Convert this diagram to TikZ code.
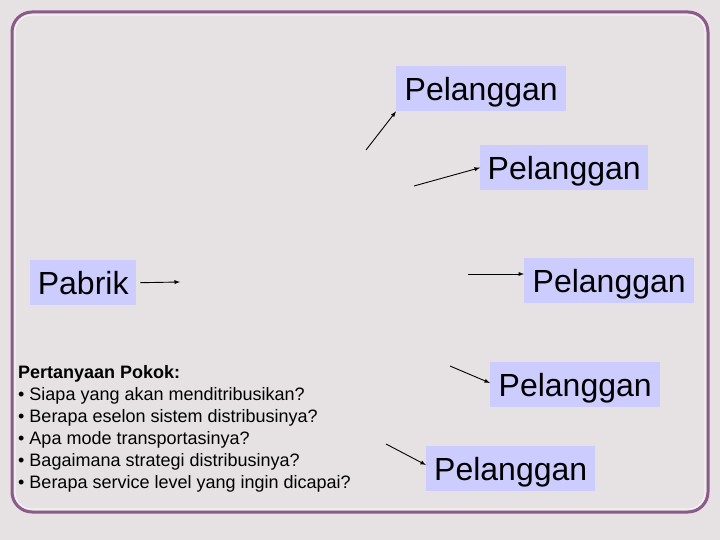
\documentclass[tikz,border=0pt]{standalone}
\usepackage{fontspec}
\setmainfont{Liberation Sans}
\begin{document}
\begin{tikzpicture}[x=1pt,y=-1pt,
  box/.style={fill=boxc,inner sep=0pt,minimum height=45pt,font=\fontsize{32}{34}\selectfont,anchor=north west,text depth=0pt},
  arr/.style={-latex,line width=0.9pt}]
\definecolor{bgc}{HTML}{E6E2E4}
\definecolor{boxc}{HTML}{CCCCFF}
\definecolor{brd}{HTML}{8B5A8B}
\useasboundingbox (0,0) rectangle (720,540);
\fill[bgc] (0,0) rectangle (720,540);
\draw[brd,line width=3pt,rounded corners=20pt] (12,12) rectangle (708,512);
\draw[white,line width=0.6pt,rounded corners=17pt] (15,15) rectangle (705,509);
\node[box,minimum width=170pt] (p1) at (396,66) {Pelanggan};
\node[box,minimum width=168pt] (p2) at (480,145) {Pelanggan};
\node[box,minimum width=106pt] (pb) at (30,260) {Pabrik};
\node[box,minimum width=170pt] (p3) at (524,258) {Pelanggan};
\node[box,minimum width=170pt] (p4) at (490,362) {Pelanggan};
\node[box,minimum width=169pt] (p5) at (426,446) {Pelanggan};
\coordinate (s1) at (366,150);
\coordinate (s2) at (414,186);
\coordinate (s3) at (180,282);
\coordinate (s4) at (468,274);
\coordinate (s5) at (450,366);
\coordinate (s6) at (386,444);
\draw[arr] (s1) -- (p1.south west);
\draw[arr] (s2) -- (p2.west);
\draw[arr] (pb.east) ++(4,0) -- (s3);
\draw[arr] (s4) -- (p3.west|-s4);
\draw[arr] (s5) -- (490,383);
\draw[arr] (s6) -- (426,465);
\node[anchor=north west,align=left,inner sep=0pt,font=\fontsize{18}{22}\selectfont] (q) at (18,365)
{\textbf{Pertanyaan Pokok:}\\
• Siapa yang akan menditribusikan?\\
• Berapa eselon sistem distribusinya?\\
• Apa mode transportasinya?\\
• Bagaimana strategi distribusinya?\\
• Berapa service level yang ingin dicapai?};
\end{tikzpicture}
\end{document}
